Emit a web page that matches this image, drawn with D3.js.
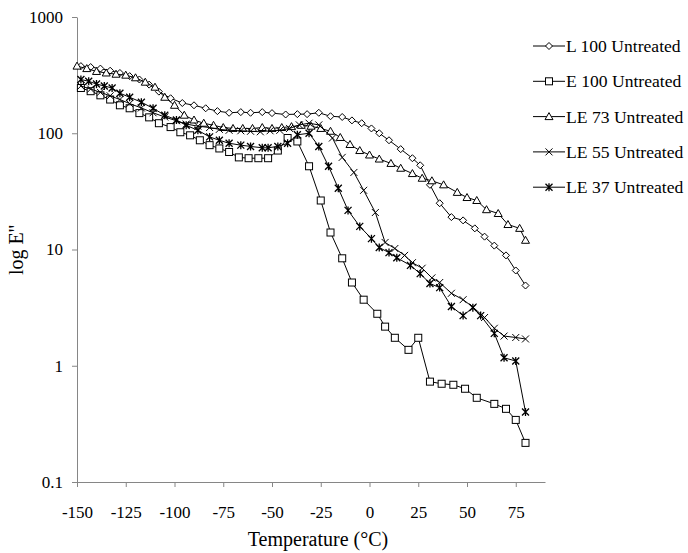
<!DOCTYPE html>
<html lang="en">
<head>
  <meta charset="utf-8">
  <title>log E'' vs temperature</title>
  <script src="https://d3js.org/d3.v7.min.js"></script>
  <style>
    body { margin: 0; background: #fff; }
    svg { display: block; }
    .axis path, .axis line { stroke: #868686; }
    .serie { fill: none; stroke: #000; stroke-width: 1; }
  </style>
</head>
<body>
<div id="chart"></div>
<script>
"use strict"

var fonte = "'Liberation Serif', 'Times New Roman', serif";

// temperatures (°C) and E'' values, one pair of arrays per sample
var l100T = [-148,-143,-138,-133,-128,-123,-118,-113,-108,-102,-96,-90,-84,-78,-72,-66,-61,-55,-50,-43,-37,-32,-26,-20,-14,-9,-4,1,5,10,16,22,26,31,36,42,48,54,59,64,70,75,80];
var l100V = [378,371,360,345,330,310,290,262,228,200,182,174,164,155,150,152,150,152,149,145,146,146,150,140,138,129,122,110,100,87,73,61,53,36,25,19,17.8,15.2,12.9,10.8,8.9,6.6,4.9];

var e100T = [-148,-143,-138,-133,-128,-123,-118,-113,-108,-102,-97,-92,-87,-82,-77,-72,-67,-62,-57,-52,-47,-42,-37,-31,-25,-20,-14,-9,-3,4,8,13,20,25,31,37,43,49,55,64,70,75,80];
var e100V = [245,230,212,195,174,164,149,137,122,113,102,96,87,79,74,69,62,61,61,61,71,91,85,52,26.4,14,8.4,5.2,3.7,2.8,2.17,1.74,1.37,1.74,0.73,0.70,0.686,0.634,0.53,0.47,0.426,0.342,0.217];

var le73T = [-150,-145,-140,-135,-130,-125,-120,-115,-110,-105,-100,-95,-90,-85,-80,-75,-70,-65,-60,-55,-50,-45,-40,-35,-30,-25,-20,-15,-10,-5,0,5,11,16,22,27,32,38,45,50,55,60,66,71,77,80];
var le73V = [378,360,340,330,322,316,300,275,249,204,174,143,130,122,117,112,110,110,110,112,110,112,114,117,115,110,104,92,80,71,65,60,55,50,45,41,39,36,31,28,26.4,22,20.4,16.4,15.2,12];

var le55T = [-148,-143,-138,-133,-128,-123,-117,-111,-105,-99,-94,-88,-82,-77,-72,-66,-61,-56,-51,-46,-41,-36,-31,-26,-19,-14,-8,-3,3,8,13,18,22,27,32,36,42,48,53,59,64,69,75,80];
var le55V = [255,240,225,210,195,180,165,150,138,128,120,115,112,108,106,105,104,103,105,106,110,118,122,118,91,62,46,32.3,20.8,11.5,10.2,8.9,7.7,6.9,5.7,5.2,4.2,3.7,3.2,2.6,2.1,1.8,1.75,1.7];

var le37T = [-148,-144,-140,-136,-132,-128,-123,-117,-111,-105,-99,-94,-88,-82,-77,-72,-66,-61,-55,-52,-47,-42,-37,-31,-26,-21,-16,-11,-5,1,5,10,14,21,26,31,36,42,48,53,57,64,69,75,80];
var le37V = [290,280,265,255,245,221,204,185,164,143,130,117,106,93,87,82,79,77,75,75,77,82,97,100,77,52,33.6,21.7,15.8,12.4,10.4,9.4,8.5,7.3,6.2,5.1,4.7,3.23,2.7,3.16,2.7,1.9,1.17,1.1,0.4];

var seriesNames = ["L 100 Untreated", "E 100 Untreated", "LE 73 Untreated", "LE 55 Untreated", "LE 37 Untreated"];
var xTicks = [-150,-125,-100,-75,-50,-25,0,25,50,75];
var yTicks = [0.1,1,10,100,1000];

var series = [
  {nome: seriesNames[0], T: l100T, V: l100V, marker: "diamond"},
  {nome: seriesNames[1], T: e100T, V: e100V, marker: "square"},
  {nome: seriesNames[2], T: le73T, V: le73V, marker: "triangle"},
  {nome: seriesNames[3], T: le55T, V: le55V, marker: "x"},
  {nome: seriesNames[4], T: le37T, V: le37V, marker: "star"}
];

var largura = 688, altura = 553;
var svg = d3.select("#chart").append("svg")
  .attr("width", largura).attr("height", altura);

var x = d3.scaleLinear().domain([-150, 90]).range([77, 545]);
var y = d3.scaleLog().domain([0.1, 1000]).range([482, 17]);

svg.append("g")
  .attr("class", "axis")
  .attr("transform", "translate(0,482)")
  .call(d3.axisBottom(x).tickValues(xTicks).tickSize(5).tickSizeOuter(0).tickPadding(19)
    .tickFormat(function(d) { return String(d); }));

svg.append("g")
  .attr("class", "axis")
  .attr("transform", "translate(77,0)")
  .call(d3.axisLeft(y).tickValues(yTicks).tickSize(5).tickSizeOuter(0).tickPadding(9)
    .tickFormat(function(d) { return String(d); }));

svg.selectAll(".axis text")
  .style("font-family", fonte)
  .style("font-size", "17px")
  .attr("fill", "#000");

// marker drawing
function desenhaMarker(g, tipo) {
  if (tipo === "diamond") {
    g.append("path").attr("d", "M0,-3.5L3.5,0L0,3.5L-3.5,0Z").attr("fill", "#fff").attr("stroke", "#000");
  } else if (tipo === "square") {
    g.append("rect").attr("x", -3.5).attr("y", -3.5).attr("width", 7).attr("height", 7)
      .attr("fill", "#fff").attr("stroke", "#000");
  } else if (tipo === "triangle") {
    g.append("path").attr("d", "M0,-4L4,3L-4,3Z").attr("fill", "#fff").attr("stroke", "#000");
  } else if (tipo === "x") {
    g.append("path").attr("d", "M-3.5,-3.5L3.5,3.5M-3.5,3.5L3.5,-3.5").attr("stroke", "#000");
  } else {
    g.append("path").attr("d", "M-3.5,-3.5L3.5,3.5M-3.5,3.5L3.5,-3.5M0,-4L0,4").attr("stroke", "#000").attr("stroke-width", 1.3);
  }
}

var linha = d3.line()
  .x(function(d) { return x(d[0]); })
  .y(function(d) { return y(d[1]); });

series.forEach(function(s) {
  var pts = s.T.map(function(t, i) { return [t, s.V[i]]; });
  svg.append("path").datum(pts).attr("class", "serie").attr("d", linha);
  svg.append("g").selectAll("g")
    .data(pts)
    .enter().append("g")
      .attr("transform", function(d) { return "translate(" + x(d[0]) + "," + y(d[1]) + ")"; })
      .each(function() { desenhaMarker(d3.select(this), s.marker); });
});

// legend
var leg = svg.append("g");
series.forEach(function(s, i) {
  var ly = 46 + i * 35.3;
  leg.append("line").attr("x1", 533).attr("x2", 565).attr("y1", ly).attr("y2", ly)
    .attr("stroke", "#000");
  var m = leg.append("g").attr("transform", "translate(549," + ly + ")");
  desenhaMarker(m, s.marker);
  leg.append("text").attr("x", 566).attr("y", ly).attr("dy", "0.35em")
    .style("font-family", fonte).style("font-size", "17.6px").text(s.nome);
});

// axis titles
svg.append("text")
  .attr("x", 318).attr("y", 546)
  .attr("text-anchor", "middle")
  .style("font-family", fonte).style("font-size", "20px")
  .text("Temperature (°C)");

svg.append("text")
  .attr("transform", "translate(23,250) rotate(-90)")
  .attr("text-anchor", "middle")
  .style("font-family", fonte).style("font-size", "20px")
  .text("log E''");
</script>
</body>
</html>
